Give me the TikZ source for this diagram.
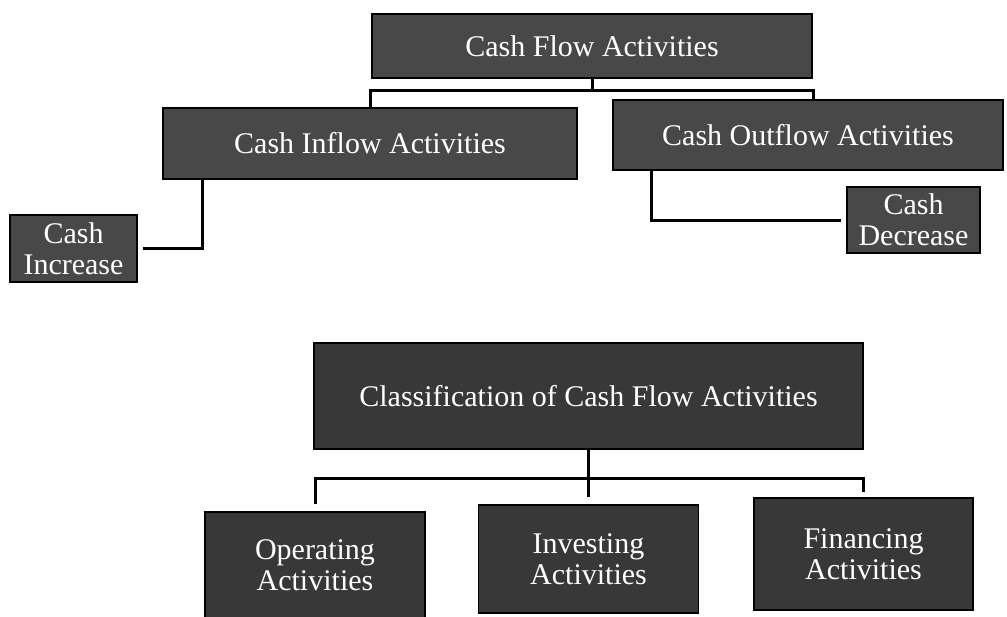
\documentclass[tikz,border=0pt]{standalone}
\usepackage{fontspec}
\setmainfont{Liberation Serif}
\definecolor{boxtop}{RGB}{72,72,72}
\definecolor{boxbot}{RGB}{56,56,56}
\begin{document}
\begin{tikzpicture}[x=1pt,y=-1pt,
  box/.style={draw=black, line width=1.5pt, fill=boxtop, text=white, inner sep=0pt,
    align=center, font=\fontsize{30}{31}\selectfont},
  boxb/.style={box, fill=boxbot},
  link/.style={draw=black, line width=3pt}]
\useasboundingbox (0,0) rectangle (1007,616);

% top diagram
\node[box, minimum width=440pt, minimum height=64pt] (top) at (592,46) {Cash Flow Activities};
\node[box, minimum width=414pt, minimum height=71pt] (inflow) at (370,143.5) {Cash Inflow Activities};
\node[box, minimum width=390pt, minimum height=70pt] (outflow) at (808,135) {Cash Outflow Activities};
\node[box, minimum width=127pt, minimum height=67pt] (incr) at (73.5,248.5) {Cash\\Increase};
\node[box, minimum width=133pt, minimum height=66pt] (decr) at (913.5,220) {Cash\\Decrease};

\path (top.south) ++(0,12) coordinate (tb);
\draw[link] (top.south) -- (tb);
\draw[link] (inflow.north) |- (tb) -| ([xshift=5pt]outflow.north);
\draw[link, shorten >=5pt] ([xshift=-168pt]inflow.south) |- (incr.east);
\draw[link, shorten >=5pt] ([xshift=-157pt]outflow.south) |- (decr.west);

% bottom diagram
\node[boxb, minimum width=549pt, minimum height=106pt] (class) at (588.5,396) {Classification of Cash Flow Activities};
\node[boxb, minimum width=220pt, minimum height=106pt] (oper) at (315,565) {Operating\\Activities};
\node[boxb, minimum width=220pt, minimum height=108pt] (inv) at (588.5,559) {Investing\\Activities};
\node[boxb, minimum width=219pt, minimum height=112pt] (fin) at (863.5,554) {Financing\\Activities};

\path (class.south) ++(0,29) coordinate (cb);
\draw[link, shorten >=7pt] (class.south) -- (inv.north);
\draw[link, shorten <=7pt, shorten >=5pt] (oper.north) |- (cb) -| (fin.north);
\end{tikzpicture}
\end{document}
